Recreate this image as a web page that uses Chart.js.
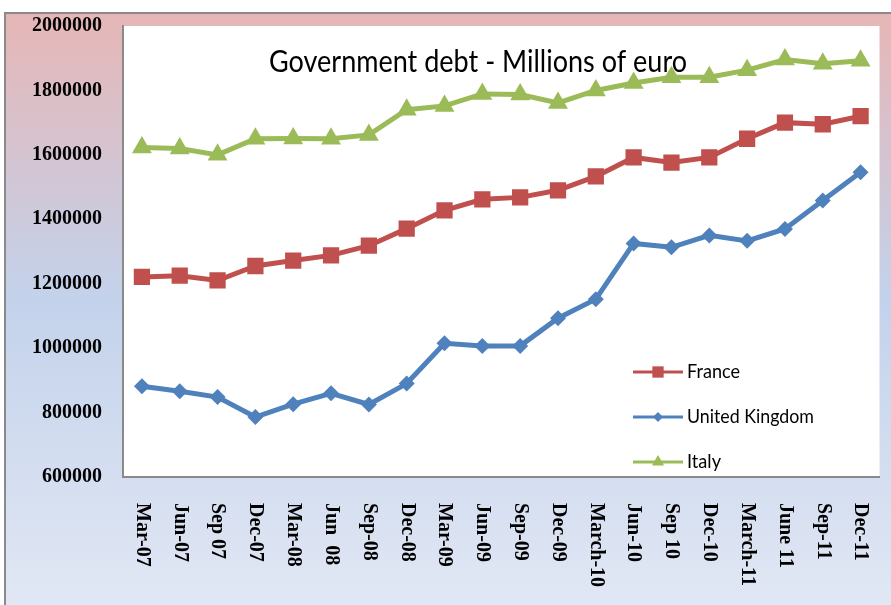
<!DOCTYPE html>
<html>
<head>
<meta charset="utf-8">
<script src="https://cdn.jsdelivr.net/npm/chart.js@4/dist/chart.umd.min.js"></script>
<style>
  html, body { margin: 0; padding: 0; background: #ffffff; }
  #wrap { width: 891px; height: 605px; }
</style>
</head>
<body>
<div id="wrap"><canvas id="c" width="891" height="605"></canvas></div>
<script>
const categories = ["Mar-07","Jun-07","Sep 07","Dec-07","Mar-08","Jun  08","Sep-08","Dec-08","Mar-09","Jun-09","Sep-09","Dec-09","March-10","Jun-10","Sep 10","Dec-10","March-11","June 11","Sep-11","Dec-11"];
const france = [1221000,1225000,1210000,1255000,1272000,1288000,1318000,1371000,1428000,1462000,1468000,1490000,1533000,1592000,1576000,1592000,1650000,1700000,1695000,1720000];
const unitedKingdom = [882000,866000,848000,786000,826000,860000,825000,890000,1015000,1007000,1007000,1093000,1152000,1325000,1313000,1350000,1333000,1370000,1458000,1546000];
const italy = [1623000,1620000,1600000,1650000,1651000,1650000,1662000,1740000,1752000,1789000,1787000,1761000,1800000,1823000,1841000,1841000,1863000,1896000,1883000,1892000];
const seriesNames = ["France","United Kingdom","Italy"];
const titleText = "Government debt - Millions of euro";
const yMin = 600000, yMax = 2000000, yStep = 200000;

const colors = { france: "#c0504d", uk: "#4f81bd", italy: "#9bbb59" };

const bgPlugin = {
  id: "bg",
  beforeDraw(chart) {
    const ctx = chart.ctx;
    const W = chart.width, H = chart.height;
    ctx.save();
    ctx.fillStyle = "#ffffff";
    ctx.fillRect(0, 0, W, H);
    const g = ctx.createLinearGradient(0, 14, 0, H);
    g.addColorStop(0, "#e6b6b6");
    g.addColorStop(0.48, "#c3d2eb");
    g.addColorStop(1, "#e1e7f4");
    ctx.fillStyle = g;
    ctx.fillRect(5, 13, W - 5, H - 13);
    ctx.strokeStyle = "#8a8a8a";
    ctx.lineWidth = 2;
    ctx.beginPath();
    ctx.moveTo(5, H);
    ctx.lineTo(5, 13);
    ctx.lineTo(W, 13);
    ctx.stroke();
    const a = chart.chartArea;
    ctx.fillStyle = "#ffffff";
    ctx.fillRect(a.left, a.top, a.right - a.left, a.bottom - a.top);
    ctx.restore();
  },
  afterDatasetsDraw(chart) {
    const ctx = chart.ctx;
    ctx.save();
    // title
    ctx.fillStyle = "#000000";
    ctx.font = "30px Lato";
    ctx.textAlign = "center";
    ctx.textBaseline = "alphabetic";
    ctx.fillText(titleText, 478, 72, 418);
    // legend
    const items = [
      { name: seriesNames[0], color: colors.france, style: "rect", r: 8, y: 372, w: 53 },
      { name: seriesNames[1], color: colors.uk, style: "rectRot", r: 5, y: 417, w: 127 },
      { name: seriesNames[2], color: colors.italy, style: "triangle", r: 7, y: 462, w: 34 }
    ];
    items.forEach(it => {
      ctx.strokeStyle = it.color;
      ctx.lineWidth = 3;
      ctx.beginPath();
      ctx.moveTo(633, it.y);
      ctx.lineTo(683, it.y);
      ctx.stroke();
      ctx.fillStyle = it.color;
      Chart.helpers.drawPoint(ctx, { pointStyle: it.style, radius: it.r, borderWidth: 0, rotation: 0 }, 658, it.y);
      ctx.fillStyle = "#000000";
      ctx.font = "20px Lato";
      ctx.textAlign = "left";
      ctx.textBaseline = "middle";
      ctx.fillText(it.name, 687, it.y, it.w);
    });
    // x labels rotated clockwise
    const xs = chart.scales.x;
    ctx.font = "bold 20px 'Liberation Serif'";
    ctx.fillStyle = "#000000";
    ctx.textAlign = "left";
    ctx.textBaseline = "middle";
    categories.forEach((lab, i) => {
      const x = xs.getPixelForValue(i);
      ctx.save();
      ctx.translate(x, 503);
      ctx.rotate(Math.PI / 2);
      ctx.fillText(lab, 0, 0);
      ctx.restore();
    });
    ctx.restore();
  }
};

new Chart(document.getElementById("c"), {
  type: "line",
  data: {
    labels: categories,
    datasets: [
      { label: seriesNames[0], data: france, borderColor: colors.france, backgroundColor: colors.france,
        borderWidth: 5, pointStyle: "rect", pointRadius: 11.5, pointBorderWidth: 0, tension: 0 },
      { label: seriesNames[1], data: unitedKingdom, borderColor: colors.uk, backgroundColor: colors.uk,
        borderWidth: 5, pointStyle: "rectRot", pointRadius: 8, pointBorderWidth: 0, tension: 0 },
      { label: seriesNames[2], data: italy, borderColor: colors.italy, backgroundColor: colors.italy,
        borderWidth: 5, pointStyle: "triangle", pointRadius: 11.5, pointBorderWidth: 0, tension: 0 }
    ]
  },
  options: {
    responsive: false,
    animation: false,
    devicePixelRatio: 1,
    layout: { padding: { top: 26, right: 9, left: 0, bottom: 0 } },
    plugins: { legend: { display: false }, title: { display: false }, tooltip: { enabled: false } },
    scales: {
      x: {
        offset: true,
        grid: { display: false, drawTicks: false },
        border: { display: true, color: "#8a8a8a", width: 2 },
        ticks: { display: false },
        afterFit(s) { s.height = 128; s.paddingLeft = 0; s.paddingRight = 0; s.paddingTop = 0; s.paddingBottom = 0; }
      },
      y: {
        min: yMin, max: yMax,
        grid: { display: false, drawTicks: false },
        border: { display: true, color: "#8a8a8a", width: 2 },
        ticks: { stepSize: yStep, padding: 21, color: "#000000",
          font: { family: "'Liberation Serif'", size: 20, weight: "bold" },
          callback: v => String(v) },
        afterFit(s) { s.width = 123; s.paddingTop = 0; s.paddingBottom = 0; s.paddingLeft = 0; s.paddingRight = 0; }
      }
    }
  },
  plugins: [bgPlugin]
});
</script>
</body>
</html>
